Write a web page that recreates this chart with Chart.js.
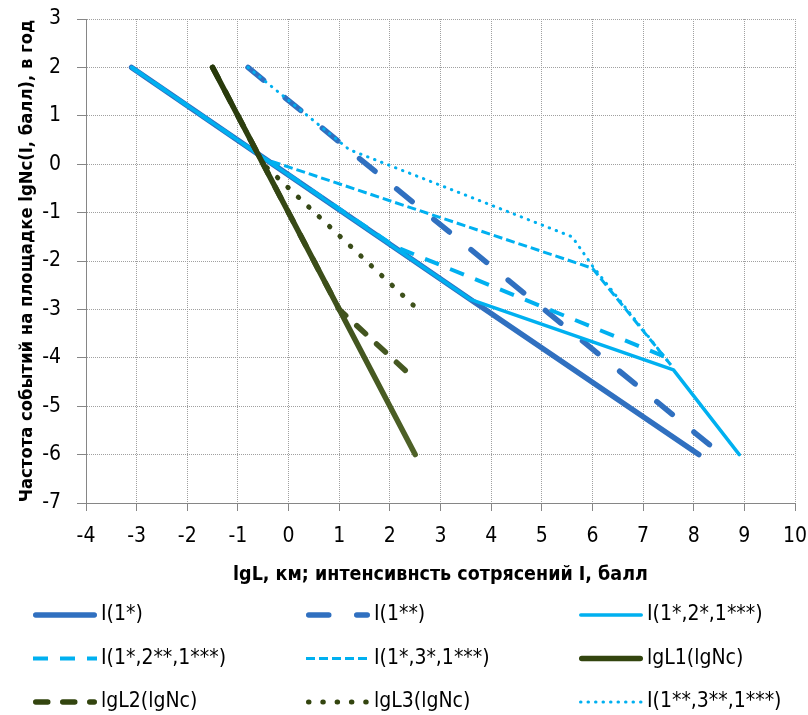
<!DOCTYPE html>
<html>
<head>
<meta charset="utf-8">
<script src="https://cdn.jsdelivr.net/npm/chart.js@4.4.0/dist/chart.umd.min.js"></script>
<style>
  html, body { margin: 0; padding: 0; background: #fff; }
</style>
</head>
<body>
<canvas id="myChart" width="808" height="715"></canvas>
<script>
// series data (x = lgL / I, y = lgNc)
const seriesNames = ['I(1*)', 'I(1**)', 'I(1*,2*,1***)', 'I(1*,2**,1***)', 'I(1*,3*,1***)',
  'lgL1(lgNc)', 'lgL2(lgNc)', 'lgL3(lgNc)', 'I(1**,3**,1***)'];

const i1X = [-3.1, -0.45, 3.6, 8.1];
const i1Y = [2, 0.1, -2.8, -6];
const i2X = [-0.8, 8.55];
const i2Y = [2, -6];
const i121X = [-3.1, -0.45, 3.6, 7.6, 8.9];
const i121Y = [2, 0.1, -2.8, -4.25, -6];
const i1221X = [-3.1, -0.45, 2.1, 7.6];
const i1221Y = [2, 0.1, -1.7, -4.05];
const i131X = [-3.1, -0.45, 6.0, 7.55];
const i131Y = [2, 0.1, -2.15, -4.15];
const lgL1X = [-1.5, 2.5];
const lgL1Y = [2, -6];
const lgL2X = [-1.5, 1.0, 2.5];
const lgL2Y = [2, -3, -4.45];
const lgL3X = [-1.5, -0.5, 2.55];
const lgL3Y = [2, 0, -3];
const i2321X = [-0.8, 1.2, 5.6, 6.0, 7.55];
const i2321Y = [2, 0.3, -1.5, -2.1, -4.15];

const xTicks = [-4, 10];   // min / max
const yTicks = [-7, 3];

const xTitle = 'lgL, км; интенсивнсть сотрясений I, балл';
const yTitle = 'Частота событий на площадке lgNc(I, балл), в год';

const FONT = "'DejaVu Sans Condensed', sans-serif";
const DARK = '#3070C0';
const LIGHT = '#00B0F0';
const OLIVE = '#33450F';

const pts = (xs, ys) => xs.map((x, i) => ({ x: x, y: ys[i] }));

let oliveGrad = null;
function olive(context) {
  const chart = context.chart;
  const area = chart.chartArea;
  if (!area) return OLIVE;
  if (!oliveGrad) {
    const ys = chart.scales.y;
    oliveGrad = chart.ctx.createLinearGradient(0, ys.getPixelForValue(2), 0, ys.getPixelForValue(-6));
    oliveGrad.addColorStop(0, '#27380A');
    oliveGrad.addColorStop(1, '#4F6228');
  }
  return oliveGrad;
}

const styles = [
  { color: DARK, width: 5.5, dash: [], cap: 'round' },
  { color: DARK, width: 5.5, dash: [20, 28], cap: 'round' },
  { color: LIGHT, width: 3.5, dash: [], cap: 'round' },
  { color: LIGHT, width: 4, dash: [15, 12], cap: 'butt' },
  { color: LIGHT, width: 3, dash: [9, 4], cap: 'butt' },
  { color: olive, legend: OLIVE, width: 5.5, dash: [], cap: 'round' },
  { color: olive, legend: OLIVE, width: 5.5, dash: [12, 15], cap: 'round' },
  { color: olive, legend: OLIVE, width: 5, dash: [0.5, 13.8], cap: 'round' },
  { color: LIGHT, width: 3, dash: [0.5, 7], cap: 'round' }
];

const seriesData = [
  pts(i1X, i1Y), pts(i2X, i2Y), pts(i121X, i121Y), pts(i1221X, i1221Y), pts(i131X, i131Y),
  pts(lgL1X, lgL1Y), pts(lgL2X, lgL2Y), pts(lgL3X, lgL3Y), pts(i2321X, i2321Y)
];

const datasets = seriesData.map((d, i) => ({
  label: seriesNames[i],
  data: d,
  borderColor: styles[i].color,
  legendColor: styles[i].legend || styles[i].color,
  borderWidth: styles[i].width,
  borderDash: styles[i].dash,
  borderCapStyle: styles[i].cap,
  borderJoinStyle: 'round',
  pointRadius: 0,
  tension: 0,
  fill: false,
  order: 20 - i
}));

// legend in 3 columns under the chart
const legCols = [33, 306, 579];
const legRows = [615, 658.5, 702];
const legendGrid = {
  id: 'legendGrid',
  afterDraw(chart) {
    const ctx = chart.ctx;
    chart.data.datasets.forEach((ds, i) => {
      const x0 = legCols[i % 3];
      const y = legRows[Math.floor(i / 3)];
      const inset = ds.borderCapStyle === 'round' ? ds.borderWidth / 2 : 0;
      ctx.save();
      ctx.strokeStyle = ds.legendColor;
      ctx.lineWidth = ds.borderWidth;
      ctx.lineCap = ds.borderCapStyle;
      ctx.setLineDash(ds.borderDash);
      ctx.beginPath();
      ctx.moveTo(x0 + inset, y);
      ctx.lineTo(x0 + 64 - inset, y);
      ctx.stroke();
      ctx.setLineDash([]);
      ctx.fillStyle = '#000';
      ctx.font = '21px ' + FONT;
      ctx.textBaseline = 'middle';
      ctx.fillText(ds.label, x0 + 68, y);
      ctx.restore();
    });
  }
};

const ctx = document.getElementById('myChart');

new Chart(ctx, {
  type: 'line',
  data: { datasets: datasets },
  options: {
    responsive: false,
    animation: false,
    layout: { padding: { left: 0, right: 13, top: 19, bottom: 117 } },
    plugins: { legend: { display: false }, tooltip: { enabled: false } },
    scales: {
      x: {
        type: 'linear',
        min: xTicks[0], max: xTicks[1],
        ticks: { stepSize: 1, color: '#000', font: { family: FONT, size: 21 }, padding: 13 },
        grid: { color: '#a0a0a0', tickLength: 8, tickColor: '#868686', tickBorderDash: [] },
        border: { display: true, color: '#868686', width: 1, dash: [1, 1] },
        title: { display: true, text: xTitle, color: '#000',
          font: { family: FONT, size: 19.5, weight: 'bold' }, padding: { top: 0, bottom: 11 } },
        afterFit(s) { s.height = 95; s.paddingLeft = 0; s.paddingRight = 0; }
      },
      y: {
        type: 'linear',
        min: yTicks[0], max: yTicks[1],
        ticks: { stepSize: 1, color: '#000', font: { family: FONT, size: 21 }, padding: 16 },
        grid: { color: '#a0a0a0', tickLength: 9, tickColor: '#868686', tickBorderDash: [] },
        border: { display: true, color: '#868686', width: 1, dash: [1, 1] },
        title: { display: true, text: yTitle, color: '#000',
          font: { family: FONT, size: 18.3, weight: 'bold' }, padding: { top: 16, bottom: 0 } },
        afterFit(s) { s.width = 86; s.paddingTop = 0; s.paddingBottom = 0; }
      }
    }
  },
  plugins: [legendGrid]
});
</script>
</body>
</html>
